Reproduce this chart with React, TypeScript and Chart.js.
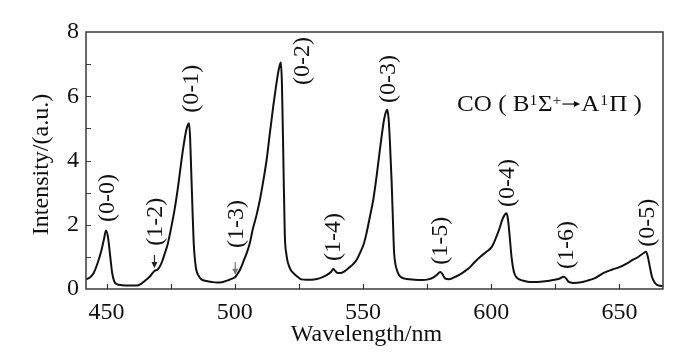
import React, { useEffect, useRef } from 'react';
import { Chart, registerables } from 'chart.js';

Chart.register(...registerables);

// Spectrum
const wavelength = [
  442, 443.5, 445, 446.5, 448, 449, 449.8, 450.6, 451.4, 452.2, 453, 454, 456, 459, 462,
  463.5, 465, 466.8, 468, 468.8, 469.8, 470.8, 471.8, 472.7, 473.8, 475.3, 476.6, 477.9,
  478.9, 479.8, 481.1, 481.8, 482.2, 482.6, 483.1, 483.6, 484, 484.5, 485, 486, 487, 489,
  491, 493, 495, 497.3, 499, 500.3, 501, 502, 503.5, 504.8, 505.9, 507, 508.5, 509.8,
  511.1, 512.4, 513.7, 515, 516, 516.9, 517.5, 518, 518.4, 518.9, 519.5, 520.2, 520.8,
  521.8, 522.8, 524.5, 526, 528, 530, 532, 534, 536, 537.5, 538.4, 539.2, 540.2, 541.5,
  542.8, 544.5, 546, 547.5, 549, 550.3, 551.4, 552.7, 554, 555.3, 556.6, 557.5, 558.2,
  558.9, 559.5, 560, 560.5, 561.2, 561.7, 562.1, 562.6, 563.2, 564, 565, 567, 570, 573,
  575.5, 577.5, 579, 580.1, 581, 582, 583.5, 585.5, 587.5, 589.5, 591.5, 593.7, 596, 598,
  600.3, 602, 603.3, 604.3, 605.2, 605.9, 606.5, 607.2, 608, 608.8, 609.7, 611, 613, 615,
  618, 621, 624, 626.5, 628.2, 629.2, 630.2, 632, 634.5, 637.5, 640.5, 643.9, 647, 650,
  653, 655.5, 657, 658.2, 659.5, 660.4, 661.1, 661.8, 662.7, 663.6, 664.7, 666, 667,
];
const intensity = [
  0.30, 0.36, 0.50, 0.80, 1.20, 1.55, 1.82, 1.60, 1.05, 0.50, 0.24, 0.15, 0.12, 0.11, 0.11,
  0.16, 0.26, 0.38, 0.50, 0.57, 0.60, 0.70, 0.88, 1.10, 1.38, 1.94, 2.50, 3.19,
  3.80, 4.33, 4.95, 5.12, 5.16, 4.70, 3.50, 2.30, 1.43, 0.90, 0.60, 0.40, 0.30, 0.25,
  0.22, 0.20, 0.21, 0.27, 0.32, 0.38, 0.46, 0.59, 0.88, 1.15, 1.43, 1.85, 2.30, 2.77,
  3.35, 4.00, 4.85, 5.68, 6.25, 6.72, 6.95, 7.05, 6.40, 4.33, 1.74, 1.05, 0.80,
  0.60, 0.50, 0.38, 0.30, 0.29, 0.29, 0.31, 0.36, 0.44, 0.53, 0.62, 0.56, 0.50, 0.50,
  0.55, 0.66, 0.76, 0.90, 1.15, 1.40, 1.74, 2.25, 2.77, 3.50, 4.33, 4.88, 5.26,
  5.50, 5.58, 5.30, 4.60, 3.30, 2.10, 1.20, 0.80, 0.60, 0.44, 0.36, 0.31, 0.29, 0.28,
  0.30, 0.36, 0.45, 0.53, 0.46, 0.33, 0.30, 0.36, 0.44, 0.54, 0.66, 0.85, 1.02, 1.15,
  1.32, 1.62, 1.90, 2.15, 2.30, 2.36, 2.20, 1.65, 0.95, 0.55, 0.38, 0.30, 0.25, 0.22,
  0.22, 0.24, 0.28, 0.32, 0.38, 0.33, 0.22, 0.19, 0.20, 0.26, 0.34, 0.50, 0.60, 0.68,
  0.80, 0.92, 0.98, 1.05, 1.12, 1.16, 1.00, 0.72, 0.38, 0.22, 0.13, 0.10, 0.09,
];

const xTickLabels = [450, 500, 550, 600, 650];
const yTickLabels = [0, 2, 4, 6, 8];
const xMinorTicks = [450, 475, 500, 525, 550, 575, 600, 625, 650];
const yMinorTicks = [1, 2, 3, 4, 5, 6, 7];

const bandLabels = ['(0-0)', '(1-2)', '(0-1)', '(1-3)', '(0-2)', '(1-4)', '(0-3)', '(1-5)', '(0-4)', '(1-6)', '(0-5)'];
const bandWl = [450, 468.7, 482.8, 500.4, 526.2, 538.3, 559.8, 580.1, 605.9, 628.9, 660.5];
const bandY = [2.83, 2.09, 6.23, 2.02, 7.1, 1.62, 6.54, 1.5, 3.3, 1.37, 2.06];

const arrowWl = [468.7, 500.2];
const arrowFrom = [1.06, 0.84];
const arrowTo = [0.65, 0.44];
const arrowColor = ['#222', '#777'];

// "CO ( B¹Σ⁺→A¹Π )" placed between these wavelengths, baseline at this intensity
const coTextStartWl = 586.7;
const coTextEndWl = 658.8;
const coTextBaseY = 5.54;

const xTitle = 'Wavelength/nm';
const yTitle = 'Intensity/(a.u.)';

const FONT = '"Liberation Serif", "Times New Roman", Times, serif';

const annotate = {
  id: 'annotate',
  afterDraw(chart: any) {
    const { ctx, chartArea: a, scales } = chart;
    const xs = scales.x;
    const ys = scales.y;
    ctx.save();
    // frame
    ctx.strokeStyle = '#3a3a3a';
    ctx.lineWidth = 1.5;
    ctx.strokeRect(a.left, a.top, a.right - a.left, a.bottom - a.top);
    // inward ticks
    ctx.beginPath();
    xMinorTicks.forEach((v) => {
      const px = Math.round(xs.getPixelForValue(v)) + 0.5;
      ctx.moveTo(px, a.bottom);
      ctx.lineTo(px, a.bottom - 5);
    });
    yMinorTicks.forEach((v) => {
      const py = Math.round(ys.getPixelForValue(v)) + 0.5;
      ctx.moveTo(a.left, py);
      ctx.lineTo(a.left + 5, py);
    });
    ctx.lineWidth = 1.2;
    ctx.stroke();

    ctx.fillStyle = '#111';
    // x title
    ctx.font = `24px ${FONT}`;
    ctx.textAlign = 'center';
    ctx.textBaseline = 'alphabetic';
    ctx.fillText(xTitle, (a.left + a.right) / 2 - 8, 341);
    // y title
    ctx.save();
    ctx.translate(48, (a.top + a.bottom) / 2 + 4);
    ctx.rotate(-Math.PI / 2);
    ctx.fillText(yTitle, 0, 0);
    ctx.restore();

    // band labels
    ctx.font = `24px ${FONT}`;
    bandLabels.forEach((t, i) => {
      const px = xs.getPixelForValue(bandWl[i]);
      const py = ys.getPixelForValue(bandY[i]);
      ctx.save();
      ctx.translate(px, py);
      ctx.rotate(-Math.PI / 2);
      ctx.textAlign = 'center';
      ctx.textBaseline = 'middle';
      ctx.fillText(t, 0, 1);
      ctx.restore();
    });

    // arrows
    arrowWl.forEach((w, i) => {
      const px = xs.getPixelForValue(w);
      const y0 = ys.getPixelForValue(arrowFrom[i]);
      const y1 = ys.getPixelForValue(arrowTo[i]);
      ctx.strokeStyle = arrowColor[i];
      ctx.fillStyle = arrowColor[i];
      ctx.lineWidth = 1.2;
      ctx.beginPath();
      ctx.moveTo(px, y0);
      ctx.lineTo(px, y1 - 4);
      ctx.stroke();
      ctx.beginPath();
      ctx.moveTo(px - 3, y1 - 6);
      ctx.lineTo(px + 3, y1 - 6);
      ctx.lineTo(px, y1);
      ctx.closePath();
      ctx.fill();
    });

    // CO ( B1Σ+ → A1Π )
    const big = `24px ${FONT}`;
    const small = `15px ${FONT}`;
    const arrowW = 19;
    type Part = { s: string; sup?: boolean; arrow?: boolean; gap?: number };
    const parts: Part[] = [
      { s: 'CO ( B' }, { s: '1', sup: true, gap: 0.5 }, { s: 'Σ' }, { s: '+', sup: true },
      { s: '', arrow: true }, { s: 'A', gap: 1 }, { s: '1', sup: true, gap: 1 }, { s: 'Π )' },
    ];
    const widths = parts.map((p) => {
      if (p.arrow) return arrowW;
      ctx.font = p.sup ? small : big;
      return ctx.measureText(p.s).width + (p.gap || 0);
    });
    const total = widths.reduce((s, w) => s + w, 0);
    const x0 = xs.getPixelForValue(coTextStartWl);
    const x1 = xs.getPixelForValue(coTextEndWl);
    const base = ys.getPixelForValue(coTextBaseY);
    ctx.save();
    ctx.translate(x0, base);
    ctx.scale((x1 - x0) / total, 1);
    ctx.fillStyle = '#111';
    ctx.strokeStyle = '#111';
    ctx.textAlign = 'left';
    ctx.textBaseline = 'alphabetic';
    let x = 0;
    parts.forEach((p, i) => {
      if (p.arrow) {
        ctx.lineWidth = 1.2;
        ctx.beginPath();
        ctx.moveTo(x + 1, -7);
        ctx.lineTo(x + arrowW - 3, -7);
        ctx.stroke();
        ctx.beginPath();
        ctx.moveTo(x + arrowW - 1, -7);
        ctx.lineTo(x + arrowW - 7, -10);
        ctx.lineTo(x + arrowW - 7, -4);
        ctx.closePath();
        ctx.fill();
      } else {
        ctx.font = p.sup ? small : big;
        ctx.fillText(p.s, x, p.sup ? -6 : 0);
      }
      x += widths[i];
    });
    ctx.restore();
    ctx.restore();
  },
};

export default function App() {
  const ref = useRef<HTMLCanvasElement>(null);
  useEffect(() => {
    if (!ref.current) return;
    const chart = new Chart(ref.current, {
      type: 'line',
      data: {
        datasets: [
          {
            data: wavelength.map((w, i) => ({ x: w, y: intensity[i] })),
            borderColor: '#111',
            borderWidth: 2,
            pointRadius: 0,
            cubicInterpolationMode: 'monotone',
            fill: false,
          },
        ],
      },
      options: {
        animation: false,
        responsive: false,
        maintainAspectRatio: false,
        layout: { padding: { top: 32, right: 37, left: 0, bottom: 0 } },
        plugins: { legend: { display: false }, tooltip: { enabled: false } },
        scales: {
          x: {
            type: 'linear',
            min: 442,
            max: 667,
            grid: { display: false, drawTicks: false },
            border: { display: false },
            afterBuildTicks: (s: any) => {
              s.ticks = xTickLabels.map((v) => ({ value: v }));
            },
            afterFit: (s: any) => {
              s.height = 72;
            },
            ticks: {
              font: { family: FONT, size: 24 },
              color: '#111',
              padding: 9,
              maxRotation: 0,
              autoSkip: false,
            },
          },
          y: {
            type: 'linear',
            min: 0,
            max: 8,
            grid: { display: false, drawTicks: false },
            border: { display: false },
            afterBuildTicks: (s: any) => {
              s.ticks = yTickLabels.map((v) => ({ value: v }));
            },
            afterFit: (s: any) => {
              s.width = 86;
            },
            ticks: {
              font: { family: FONT, size: 24 },
              color: '#111',
              padding: 7,
              autoSkip: false,
            },
          },
        },
      },
      plugins: [annotate],
    } as any);
    return () => chart.destroy();
  }, []);
  return (
    <div style={{ position: 'absolute', left: 0, top: 0, width: 700, height: 361, background: '#fff' }}>
      <canvas ref={ref} width={700} height={361} style={{ width: 700, height: 361, display: 'block' }} />
    </div>
  );
}
